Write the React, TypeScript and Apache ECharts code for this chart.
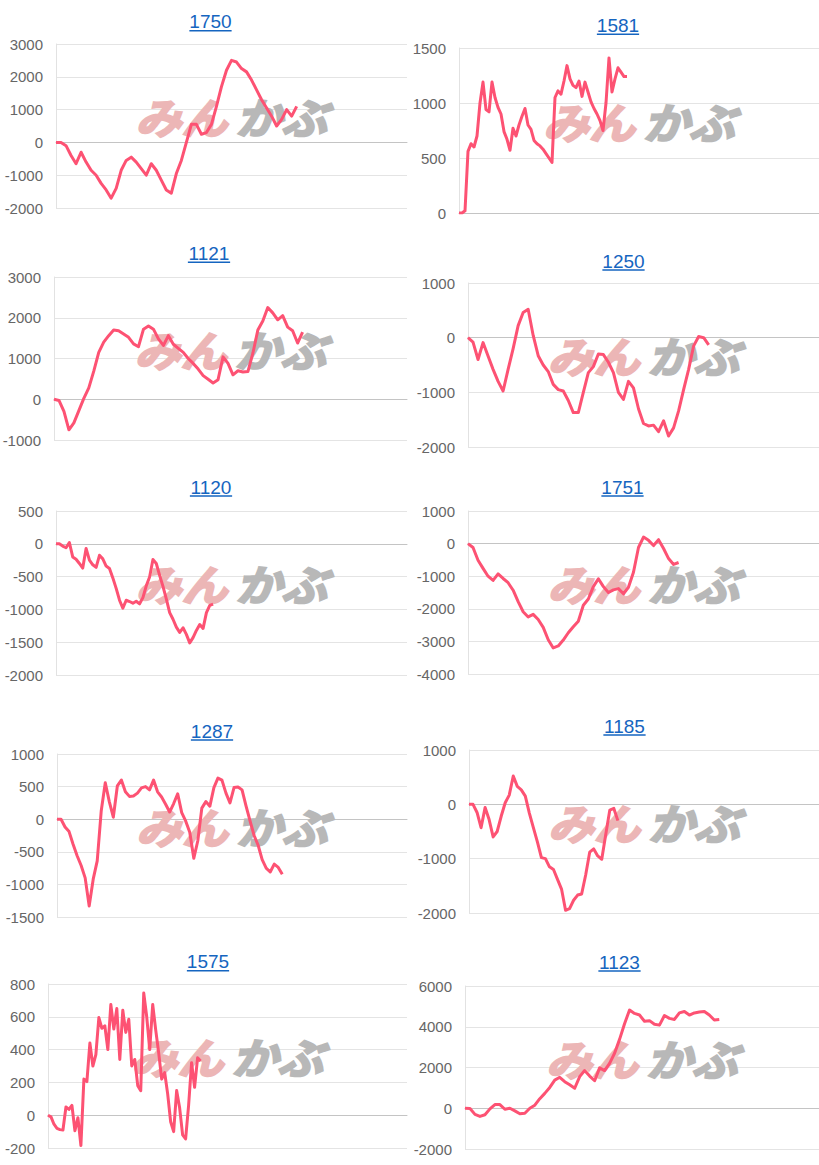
import React, { useEffect, useRef } from "react";
import * as echarts from "echarts";

// ---- data ----
const TITLES = ["1750", "1581", "1121", "1250", "1120", "1751", "1287", "1185", "1575", "1123"];
const Y_MIN = [-2000, 0, -1000, -2000, -2000, -4000, -1500, -2000, -200, -2000];
const Y_MAX = [3000, 1500, 3000, 1000, 500, 1000, 1000, 1000, 800, 6000];
const Y_STEP = [1000, 500, 1000, 1000, 500, 1000, 500, 1000, 200, 2000];
const X_SLOTS = [71, 121, 72, 71, 106, 71, 88, 88, 121, 72];

const S1750 = [0, 0, -100, -400, -650, -300, -600, -850, -1000, -1250, -1450, -1700, -1400, -850, -550, -450, -600, -800, -1000, -650, -850, -1150, -1450, -1550, -950, -550, 0, 550, 550, 250, 300, 550, 1100, 1700, 2200, 2500, 2450, 2250, 2150, 1900, 1600, 1300, 1050, 800, 500, 700, 1000, 800, 1100];
const S1581 = [0, 0, 20, 560, 630, 600, 700, 1000, 1190, 940, 920, 1190, 1050, 960, 900, 740, 670, 570, 770, 700, 800, 880, 950, 800, 760, 660, 630, 610, 580, 540, 500, 460, 1050, 1110, 1080, 1200, 1340, 1220, 1160, 1140, 1200, 1060, 1190, 1100, 1010, 950, 900, 840, 750, 1000, 1410, 1100, 1220, 1320, 1280, 1240, 1240];
const S1121 = [0, -30, -300, -750, -580, -280, 20, 280, 690, 1150, 1400, 1560, 1700, 1680, 1600, 1520, 1360, 1290, 1720, 1800, 1720, 1480, 1320, 1560, 1350, 1250, 1150, 1000, 880, 740, 580, 490, 400, 480, 1040, 880, 600, 700, 670, 680, 1130, 1700, 1920, 2250, 2120, 1950, 2050, 1770, 1680, 1380, 1650];
const S1250 = [0, -80, -400, -90, -335, -580, -800, -975, -580, -200, 220, 460, 520, 40, -330, -500, -620, -855, -950, -975, -1150, -1370, -1370, -1000, -640, -530, -300, -310, -450, -640, -1000, -1130, -800, -920, -1300, -1570, -1615, -1600, -1720, -1520, -1800, -1650, -1340, -950, -580, -150, 20, 0, -130];
const S1120 = [0, 0, -35, -60, 20, -200, -235, -300, -370, -70, -250, -320, -360, -175, -230, -340, -375, -520, -680, -860, -980, -860, -880, -905, -875, -915, -820, -640, -505, -240, -300, -480, -650, -840, -1050, -1150, -1270, -1350, -1280, -1380, -1510, -1430, -1320, -1230, -1290, -1050, -940, -920];
const S1751 = [0, -120, -510, -760, -1000, -1130, -930, -1070, -1200, -1430, -1780, -2090, -2250, -2170, -2330, -2570, -2950, -3200, -3140, -2960, -2735, -2550, -2380, -1890, -1700, -1320, -1080, -1320, -1500, -1420, -1380, -1540, -1340, -880, -120, 200, 100, -60, 120, -150, -460, -640, -580];
const S1287 = [0, 0, -120, -190, -385, -560, -710, -900, -1330, -920, -640, 130, 560, 270, 30, 510, 600, 420, 350, 355, 400, 480, 500, 450, 600, 420, 340, 230, 110, 240, 390, 100, -30, -200, -600, -330, 170, 270, 200, 485, 630, 600, 400, 250, 485, 495, 450, 200, -30, -250, -400, -620, -750, -810, -690, -740, -845];
const S1185 = [0, 0, -150, -430, -60, -280, -600, -500, -220, 30, 170, 520, 330, 265, 150, -160, -430, -690, -980, -1000, -1150, -1200, -1380, -1560, -1950, -1920, -1765, -1670, -1650, -1300, -880, -820, -950, -1010, -550, -105, -75, -300];
const S1575 = [0, -10, -55, -80, -88, -90, 50, 35, 60, -95, -15, -185, 220, 205, 440, 300, 370, 595, 530, 545, 400, 675, 525, 650, 340, 640, 505, 585, 300, 340, 180, 150, 745, 600, 400, 675, 520, 380, 220, 260, 130, -40, -100, 150, 45, -120, -145, 60, 320, 170, 350, 330];
const S1123 = [0, -10, -300, -400, -320, -30, 180, 180, -50, 0, -130, -270, -245, 0, 150, 470, 730, 1020, 1380, 1520, 1305, 1150, 980, 1550, 1850, 1580, 1350, 1980, 1850, 2205, 2700, 3380, 4150, 4820, 4655, 4575, 4270, 4300, 4120, 4080, 4550, 4410, 4360, 4680, 4750, 4575, 4680, 4720, 4750, 4575, 4330, 4360];

const SERIES = [S1750, S1581, S1121, S1250, S1120, S1751, S1287, S1185, S1575, S1123];

// ---- layout (pixels) ----
const LAYOUT = [
  { left: 56, top: 44, width: 351, height: 164, tx: 210.5, uy: 30.7 },
  { left: 459, top: 48, width: 360, height: 165, tx: 618, uy: 34.3 },
  { left: 54, top: 277, width: 353, height: 163, tx: 209, uy: 262.3 },
  { left: 468, top: 283, width: 351, height: 164, tx: 623.5, uy: 270 },
  { left: 56, top: 511, width: 351, height: 164, tx: 211, uy: 496 },
  { left: 468, top: 511, width: 351, height: 163, tx: 622.5, uy: 496 },
  { left: 57, top: 754, width: 350, height: 163, tx: 212, uy: 740 },
  { left: 469, top: 750, width: 350, height: 163, tx: 624.5, uy: 735 },
  { left: 48, top: 984, width: 359, height: 164, tx: 208, uy: 970.7 },
  { left: 465, top: 986, width: 354, height: 163, tx: 619.5, uy: 971 },
];

const LINE_COLOR = "#fd5273";
const LINK_COLOR = "#1565c0";
const TITLE_SIZE = 19;

export default function App() {
  const ref = useRef<HTMLDivElement>(null);

  useEffect(() => {
    if (!ref.current) return;
    const chart = echarts.init(ref.current, undefined, { renderer: "svg" });

    const grids = LAYOUT.map((l) => ({
      left: l.left,
      top: l.top,
      width: l.width,
      height: l.height,
      containLabel: false,
      outerBoundsMode: "none",
    }));

    const xAxes = LAYOUT.map((_, i) => ({
      type: "category",
      gridIndex: i,
      boundaryGap: false,
      data: Array.from({ length: X_SLOTS[i] }, (_, k) => String(k)),
      axisLabel: { show: false },
      axisTick: { show: false },
      splitLine: { show: false },
      axisLine: { show: true, onZero: true, lineStyle: { color: "#c4c4c4", width: 1 } },
    }));

    const yAxes = LAYOUT.map((_, i) => ({
      type: "value",
      gridIndex: i,
      min: Y_MIN[i],
      max: Y_MAX[i],
      interval: Y_STEP[i],
      axisLine: { show: true, lineStyle: { color: "#e2e2e2" } },
      axisTick: { show: false },
      splitLine: { show: true, lineStyle: { color: "#e4e4e4", width: 1 } },
      axisLabel: {
        color: "#666666",
        fontSize: 15,
        fontFamily: '"Liberation Sans", Arial, sans-serif',
        margin: 13,
        formatter: (v: number) => String(v),
      },
    }));

    const series = SERIES.map((data, i) => ({
      type: "line",
      xAxisIndex: i,
      yAxisIndex: i,
      data,
      showSymbol: false,
      symbol: "none",
      smooth: false,
      z: 3,
      lineStyle: { color: LINE_COLOR, width: 3, join: "round" },
      itemStyle: { color: LINE_COLOR },
    }));

    const graphic: any[] = [];
    LAYOUT.forEach((l, i) => {
      const w = TITLES[i].length * 0.556 * TITLE_SIZE;
      graphic.push({
        type: "text",
        x: l.tx,
        y: l.uy - 9,
        silent: true,
        style: {
          text: TITLES[i],
          fill: LINK_COLOR,
          font: `${TITLE_SIZE}px "Liberation Sans", Arial, sans-serif`,
          align: "center",
          verticalAlign: "middle",
        },
      });
      graphic.push({
        type: "line",
        silent: true,
        shape: { x1: l.tx - w / 2, y1: l.uy, x2: l.tx + w / 2, y2: l.uy },
        style: { stroke: LINK_COLOR, lineWidth: 1.5 },
      });
      const cx = l.left + l.width / 2;
      const cy = l.top + l.height / 2 - 10;
      graphic.push({
        type: "text",
        x: cx - 50,
        y: cy,
        scaleX: 1.15,
        scaleY: 1.05,
        silent: true,
        z: 1,
        style: {
          text: "みん",
          fill: "#ecb6b6",
          stroke: "#ecb6b6",
          lineWidth: 2,
          font: 'italic bold 40px "Noto Sans CJK JP", sans-serif',
          align: "center",
          verticalAlign: "middle",
        },
      });
      graphic.push({
        type: "text",
        x: cx + 50,
        y: cy,
        scaleX: 1.15,
        scaleY: 1.05,
        silent: true,
        z: 1,
        style: {
          text: "かぶ",
          fill: "#b8b8b8",
          stroke: "#b8b8b8",
          lineWidth: 2,
          font: 'italic bold 40px "Noto Sans CJK JP", sans-serif',
          align: "center",
          verticalAlign: "middle",
        },
      });
    });

    chart.setOption({
      animation: false,
      backgroundColor: "#ffffff",
      grid: grids,
      xAxis: xAxes,
      yAxis: yAxes,
      series,
      graphic,
    });

    return () => {
      chart.dispose();
    };
  }, []);

  return (
    <div
      ref={ref}
      style={{ position: "absolute", left: 0, top: 0, width: 819, height: 1165 }}
    />
  );
}
